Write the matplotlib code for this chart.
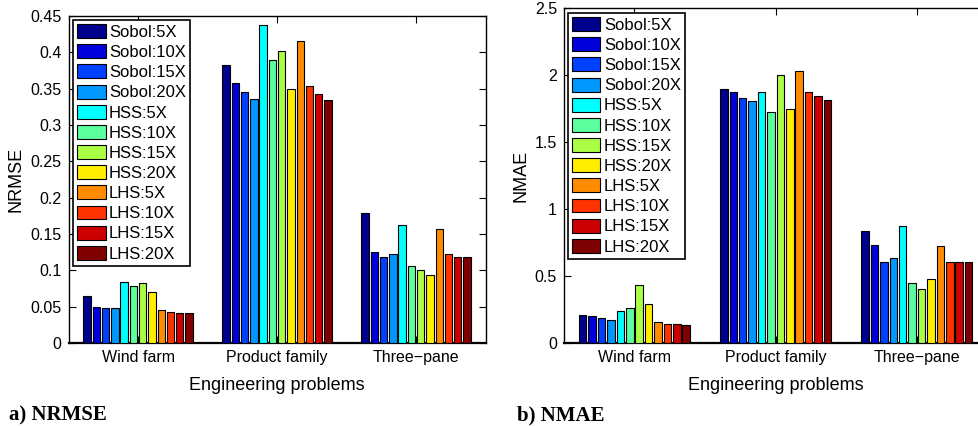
import matplotlib
matplotlib.use('Agg')
import matplotlib.pyplot as plt
import numpy as np

#DATA
problems = ['Wind farm', 'Product family', 'Three\u2212pane']
series = ['Sobol:5X', 'Sobol:10X', 'Sobol:15X', 'Sobol:20X',
          'HSS:5X', 'HSS:10X', 'HSS:15X', 'HSS:20X',
          'LHS:5X', 'LHS:10X', 'LHS:15X', 'LHS:20X']

# one row per series: [Wind farm, Product family, Three-pane]
nrmse = [[0.065, 0.382, 0.179],
         [0.049, 0.358, 0.125],
         [0.048, 0.346, 0.118],
         [0.048, 0.336, 0.122],
         [0.0835, 0.437, 0.163],
         [0.079, 0.389, 0.106],
         [0.0826, 0.402, 0.101],
         [0.0707, 0.350, 0.093],
         [0.0454, 0.415, 0.157],
         [0.043, 0.354, 0.122],
         [0.0417, 0.343, 0.119],
         [0.041, 0.335, 0.119]]

nmae = [[0.212, 1.897, 0.833],
        [0.204, 1.872, 0.735],
        [0.189, 1.832, 0.603],
        [0.174, 1.805, 0.631],
        [0.242, 1.874, 0.872],
        [0.264, 1.725, 0.449],
        [0.436, 1.997, 0.401],
        [0.294, 1.745, 0.474],
        [0.155, 2.029, 0.725],
        [0.145, 1.872, 0.606],
        [0.140, 1.842, 0.601],
        [0.137, 1.815, 0.601]]

nrmse_ticks = [0, 0.05, 0.1, 0.15, 0.2, 0.25, 0.3, 0.35, 0.4, 0.45]
nrmse_ticklabels = ['0', '0.05', '0.1', '0.15', '0.2', '0.25', '0.3', '0.35', '0.4', '0.45']
nmae_ticks = [0, 0.5, 1, 1.5, 2, 2.5]
nmae_ticklabels = ['0', '0.5', '1', '1.5', '2', '2.5']

#JET-LIKE COLOURS
colors = ['#00008f', '#0000dd', '#0040ff', '#0098ff', '#00ffff', '#5cff9e',
          '#aaff44', '#ffee00', '#ff8c00', '#ff3300', '#cc0000', '#7f0000']

plt.close('all')
plt.rcParams.update({'font.family': ['Liberation Sans', 'DejaVu Sans']})

fig = plt.figure(figsize=(9.79, 4.26), dpi=100)

ax1 = fig.add_axes([0.070, 0.1948, 0.426, 0.7676])
ax2 = fig.add_axes([0.576, 0.1948, 0.4326, 0.7864])

n = len(series)
step = 0.8 / n
bw = step * 0.8
x = np.arange(1, len(problems) + 1)


def draw(ax, data, ticks, ticklabels, ylab, ymax, legend_anchor):
    for i in range(n):
        offs = (i - (n - 1) / 2.0) * step
        ax.bar(x + offs, data[i], width=bw, color=colors[i],
               edgecolor='black', linewidth=0.8, label=series[i], zorder=3)
    ax.set_xlim(0.5, 3.5)
    ax.set_ylim(0, ymax)
    ax.set_xticks(x)
    ax.set_xticklabels(problems, fontsize=11.5)
    ax.set_yticks(ticks)
    ax.set_yticklabels(ticklabels, fontsize=11.5)
    ax.tick_params(axis='both', direction='in', length=5, width=0.8,
                   top=True, right=True, pad=5)
    for s in ['top', 'bottom', 'left', 'right']:
        ax.spines[s].set_linewidth(1.0)
    ax.spines['bottom'].set_linewidth(1.6)
    ax.set_xlabel('Engineering problems', fontsize=13, labelpad=9)
    ax.set_ylabel(ylab, fontsize=13, labelpad=4)
    lgd = ax.legend(loc='upper left', bbox_to_anchor=legend_anchor,
                    bbox_transform=fig.transFigure, fontsize=12,
                    handlelength=1.7, handleheight=0.9, handletextpad=0.2,
                    labelspacing=0.27, borderpad=0.25, borderaxespad=0,
                    fancybox=False, framealpha=1, edgecolor='black')
    lgd.get_frame().set_linewidth(1.2)


draw(ax1, nrmse, nrmse_ticks, nrmse_ticklabels, 'NRMSE', 0.45, (73 / 979, 1 - 20 / 426))
draw(ax2, nmae, nmae_ticks, nmae_ticklabels, 'NMAE', 2.5, (568 / 979, 1 - 13 / 426))

#CAPTIONS
fig.text(9 / 979, 1 - 415 / 426, 'a) NRMSE', fontsize=15, fontweight='bold',
         family='Liberation Serif', va='center', ha='left')
fig.text(517 / 979, 1 - 415 / 426, 'b) NMAE', fontsize=15, fontweight='bold',
         family='Liberation Serif', va='center', ha='left')

plt.savefig('out.png', dpi=100)
